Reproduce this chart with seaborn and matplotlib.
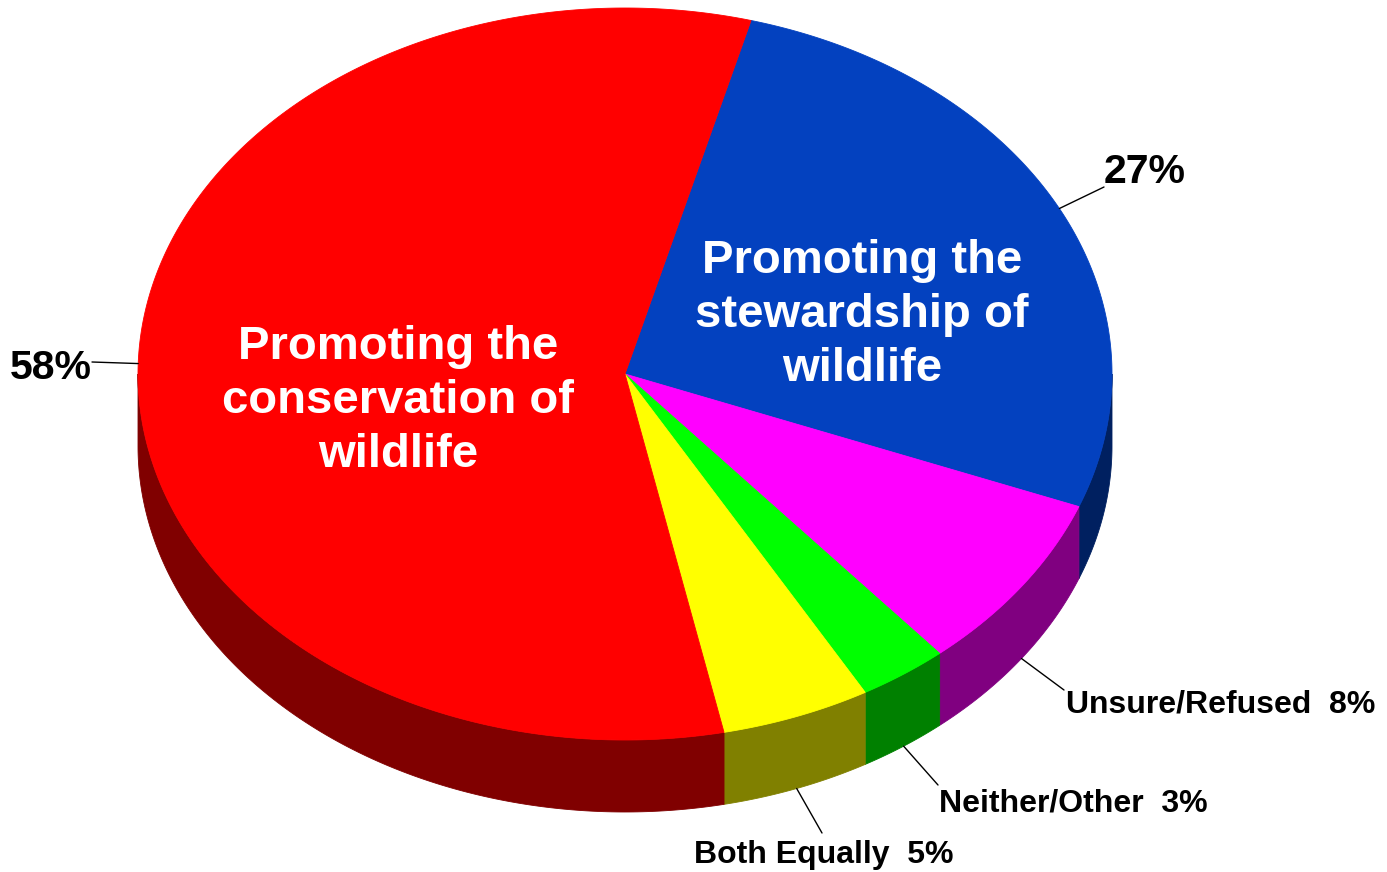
import numpy as np
import matplotlib
matplotlib.use("Agg")
import matplotlib.pyplot as plt
import seaborn as sns

# Survey shares, listed clockwise from the top of the pie
categories = ["Promoting the stewardship of wildlife", "Unsure/Refused",
              "Neither/Other", "Both Equally", "Promoting the conservation of wildlife"]
values = [27, 8, 3, 5, 58]
top_colors = ["#0341BF", "#FF00FF", "#00FF00", "#FFFF00", "#FF0000"]
side_colors = ["#002060", "#800080", "#008000", "#808000", "#800000"]

sns.set_theme(style="white")
plt.rcParams["font.family"] = ["Liberation Sans", "DejaVu Sans"]

W, H = 1387, 872
fig = plt.figure(figsize=(W / 100, H / 100), dpi=100)
ax = fig.add_axes([0, 0, 1, 1])
ax.set_xlim(0, W)
ax.set_ylim(H, 0)
ax.axis("off")

# Ellipse geometry of the tilted pie (screen units)
cx, cy, rx, ry, depth = 625, 374, 487, 366, 72
start = 75.0


def pt(t_deg, dz=0.0):
    t = np.radians(t_deg)
    return cx + rx * np.cos(t), cy - ry * np.sin(t) + dz


total = float(sum(values))
spans = [v / total * 360 for v in values]
ranges = []
a_hi = start
for s in spans:
    ranges.append((a_hi - s, a_hi))
    a_hi -= s

# Side walls (front half of the rim only)
for (a0, a1), col in zip(ranges, side_colors):
    for k in (-1, 0, 1):
        lo, hi = max(a0, k * 360 - 180), min(a1, k * 360)
        if hi <= lo:
            continue
        t = np.linspace(lo, hi, 200)
        xs, ys = pt(t)
        xb, yb = pt(t[::-1], depth)
        ax.fill(np.r_[xs, xb], np.r_[ys, yb], color=col, lw=0.6, ec=col, zorder=1)

# Top faces
for (a0, a1), col in zip(ranges, top_colors):
    t = np.linspace(a0, a1, 400)
    xs, ys = pt(t)
    ax.fill(np.r_[cx, xs], np.r_[cy, ys], color=col, lw=0.6, ec=col, zorder=2)

# Big in-slice labels
big = dict(color="white", fontsize=34, fontweight="bold", ha="center",
           va="center", linespacing=1.3, zorder=3)
ax.text(398, 401, "Promoting the\nconservation of\nwildlife", **big)
ax.text(862, 315, "Promoting the\nstewardship of\nwildlife", **big)

# Outside labels with leader lines anchored at slice mid-angles
mids = [(a0 + a1) / 2 for a0, a1 in ranges]
lab_kw = dict(color="black", fontweight="bold", zorder=3)

# 27%
x0, y0 = pt(mids[0])
ax.plot([x0, 1104], [y0, 187], color="black", lw=1, zorder=3)
ax.text(1104, 172, f"{values[0]}%", fontsize=29.5, ha="left", va="center", **lab_kw)

# 58%
x0, y0 = pt(mids[4])
ax.plot([x0, 92], [y0, 362], color="black", lw=1, zorder=3)
ax.text(92, 368, f"{values[4]}%", fontsize=29.5, ha="right", va="center", **lab_kw)

# Unsure/Refused
x0, y0 = pt(mids[1], depth)
ax.plot([x0, 1064], [y0, 690], color="black", lw=1, zorder=3)
ax.text(1066, 704, f"{categories[1]}  {values[1]}%", fontsize=23, ha="left", va="center", **lab_kw)

# Neither/Other
x0, y0 = pt(mids[2], depth)
ax.plot([x0, 938], [y0, 785], color="black", lw=1, zorder=3)
ax.text(939, 803, f"{categories[2]}  {values[2]}%", fontsize=23, ha="left", va="center", **lab_kw)

# Both Equally
x0, y0 = pt(mids[3], depth)
ax.plot([x0, 822], [y0, 833], color="black", lw=1, zorder=3)
ax.text(824, 855, f"{categories[3]}  {values[3]}%", fontsize=23, ha="center", va="center", **lab_kw)

fig.savefig("out.png", dpi=100, facecolor="white")
